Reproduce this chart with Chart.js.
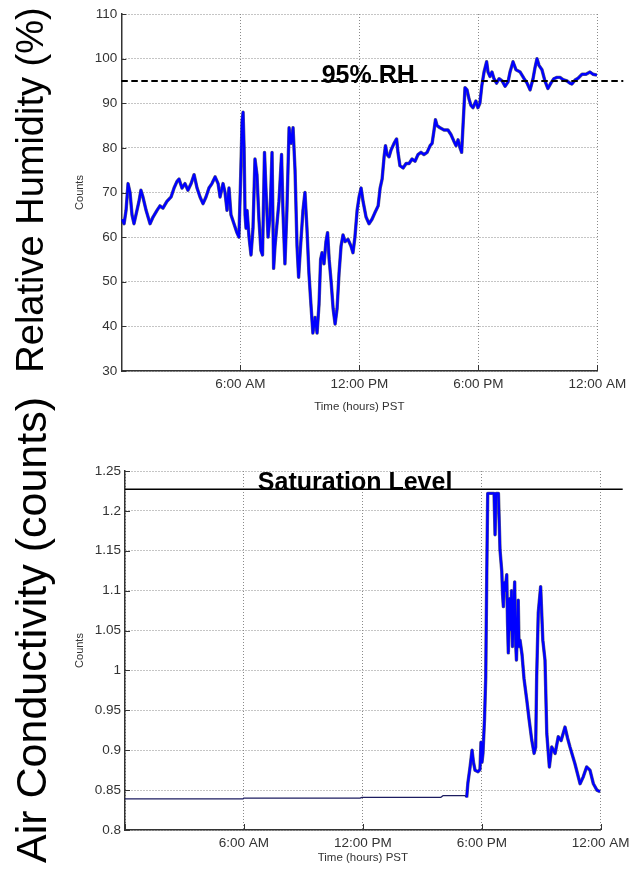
<!DOCTYPE html>
<html>
<head>
<meta charset="utf-8">
<script src="https://cdn.jsdelivr.net/npm/chart.js@4.4.1/dist/chart.umd.min.js"></script>
<style>
  html, body { margin: 0; padding: 0; background: #fff; }
  body { width: 630px; height: 878px; position: relative; overflow: hidden; font-family: "Liberation Sans", Arial, sans-serif; }
  #rhBox { position: absolute; left: 0; top: 0; width: 630px; height: 425px; }
  #condBox { position: absolute; left: 0; top: 430px; width: 630px; height: 448px; }
  .side { position: absolute; white-space: nowrap; color: #000; line-height: 1; transform: translate(-50%, -50%) rotate(-90deg); }
</style>
</head>
<body>
<div id="rhBox"><canvas id="rh"></canvas></div>
<div id="condBox"><canvas id="cond"></canvas></div>
<div class="side" style="left:30px; top:190px; font-size:38px;">Relative Humidity (%)</div>
<div class="side" style="left:31px; top:630px; font-size:43px;">Air Conductivity (counts)</div>
<script>
// Time axis (hours after midnight, PST)
const hourTicks = [0, 6, 12, 18, 24];
const hourLabels = ['', '6:00 AM', '12:00 PM', '6:00 PM', '12:00 AM'];

// Relative humidity axis
const rhTicks = [30, 40, 50, 60, 70, 80, 90, 100, 110];
const rhTickLabels = ['30', '40', '50', '60', '70', '80', '90', '100', '110'];
const rhThreshold = 95;

// Relative humidity record
const rhHours = [
  0.04, 0.14, 0.24, 0.34, 0.44, 0.54, 0.64, 0.79, 0.89, 0.99, 1.09, 1.25, 1.45, 1.60, 1.80, 1.95,
  2.10, 2.30, 2.51, 2.66, 2.81, 2.91, 3.06, 3.21, 3.36, 3.52, 3.67, 3.82, 3.97, 4.12, 4.27, 4.42,
  4.57, 4.73, 4.88, 4.98, 5.13, 5.23, 5.33, 5.43, 5.53, 5.68, 5.83, 5.93, 6.01, 6.09, 6.14, 6.19,
  6.24, 6.29, 6.34, 6.44, 6.54, 6.64, 6.74, 6.84, 6.94, 7.04, 7.12, 7.22, 7.30, 7.40, 7.50, 7.60,
  7.68, 7.75, 7.85, 7.95, 8.08, 8.15, 8.25, 8.35, 8.46, 8.56, 8.66, 8.76, 8.86, 8.94, 9.01, 9.16,
  9.26, 9.36, 9.46, 9.56, 9.66, 9.77, 9.87, 9.97, 10.05, 10.12, 10.22, 10.32, 10.40, 10.48, 10.58, 10.68,
  10.78, 10.88, 10.98, 11.08, 11.18, 11.28, 11.43, 11.58, 11.68, 11.78, 11.89, 11.99, 12.09, 12.19, 12.34, 12.49,
  12.64, 12.79, 12.95, 13.05, 13.15, 13.25, 13.32, 13.40, 13.50, 13.60, 13.75, 13.88, 13.95, 14.05, 14.21, 14.36,
  14.51, 14.66, 14.81, 14.96, 15.11, 15.26, 15.42, 15.57, 15.67, 15.77, 15.84, 15.92, 16.07, 16.27, 16.47, 16.62,
  16.77, 16.88, 16.98, 17.08, 17.16, 17.23, 17.33, 17.43, 17.53, 17.63, 17.73, 17.88, 17.98, 18.08, 18.18, 18.29,
  18.42, 18.49, 18.59, 18.69, 18.79, 18.92, 19.05, 19.20, 19.35, 19.50, 19.60, 19.75, 19.90, 20.11, 20.31, 20.46,
  20.61, 20.76, 20.86, 20.96, 21.06, 21.21, 21.36, 21.51, 21.66, 21.81, 21.97, 22.12, 22.27, 22.47, 22.62, 22.72,
  22.88, 23.03, 23.23, 23.43, 23.63, 23.78, 23.98
];
const rhValues = [
  64, 63, 66, 72, 70, 65, 63, 66, 68, 70.5, 69, 66, 63, 64.5, 66, 67,
  66.5, 68, 69, 71, 72.5, 73, 71, 72, 70.5, 72, 74, 71, 69, 67.5, 69, 71,
  72, 73.5, 72, 69, 72, 70, 66, 71, 65, 63, 61, 60, 72, 86, 88, 80,
  65, 62, 66, 60, 56, 62, 77.5, 74, 64, 57, 56, 79, 70, 60, 65, 79,
  53, 58, 63, 68, 78.5, 66, 54, 66, 84.5, 81, 84.5, 75, 58, 51, 56, 66,
  70, 62, 52, 45, 38.5, 42, 38.5, 45, 55, 56.5, 54, 59, 61, 55, 50, 44,
  40.5, 44, 52, 58, 60.5, 59, 59.5, 58, 56.5, 60, 66, 69, 71, 68, 64.5, 63,
  64, 65.5, 67, 71, 73, 78, 80.5, 78.5, 78, 79.5, 81, 82, 79, 76, 75.5, 76.5,
  76.5, 77.5, 77, 78.5, 79, 78.5, 79, 80.5, 81, 84, 86.3, 85, 84.5, 84, 84, 83,
  81.5, 80.5, 81.8, 80, 79, 85, 93.5, 93, 91, 89.5, 89, 90.5, 89, 90, 94, 97,
  99.3, 97, 96, 97, 95.5, 94.5, 95.5, 95, 93.8, 94.8, 97, 99.3, 97.5, 97, 95.5, 94.5,
  93, 95.5, 98, 100, 98.5, 97.5, 95, 93.3, 94.5, 95.5, 95.8, 95.8, 95.3, 95, 94.5, 94.3,
  95.2, 95.6, 96.5, 96.5, 97, 96.5, 96.3
];

// Air conductivity axis
const condTicks = [0.8, 0.85, 0.9, 0.95, 1, 1.05, 1.1, 1.15, 1.2, 1.25];
const condTickLabels = ['0.8', '0.85', '0.9', '0.95', '1', '1.05', '1.1', '1.15', '1.2', '1.25'];
const saturationLevel = 1.227;

// Air conductivity record
const condHours = [
  0, 5.95, 6.0, 11.86, 11.96, 15.94, 16.04, 17.15, 17.24, 17.30, 17.41, 17.51, 17.58, 17.66, 17.81, 17.91,
  17.96, 18.01, 18.06, 18.14, 18.20, 18.25, 18.30, 18.62, 18.67, 18.72, 18.84, 18.92, 19.01, 19.05, 19.09, 19.13,
  19.17, 19.26, 19.30, 19.34, 19.40, 19.46, 19.50, 19.55, 19.60, 19.66, 19.70, 19.75, 19.80, 19.84, 19.88, 19.93,
  20.03, 20.13, 20.27, 20.38, 20.52, 20.64, 20.72, 20.77, 20.85, 20.97, 21.08, 21.19, 21.28, 21.41, 21.53, 21.70,
  21.86, 22.00, 22.20, 22.33, 22.45, 22.70, 22.96, 23.11, 23.29, 23.46, 23.63, 23.81, 23.97
];
const condValues = [
  0.839, 0.839, 0.840, 0.840, 0.841, 0.841, 0.843, 0.843, 0.841, 0.859, 0.879, 0.900, 0.885, 0.875, 0.873, 0.876,
  0.910, 0.885, 0.896, 0.940, 0.992, 1.117, 1.222, 1.222, 1.170, 1.222, 1.222, 1.151, 1.124, 1.095, 1.080, 1.110,
  1.100, 1.120, 1.060, 1.022, 1.090, 1.051, 1.100, 1.030, 1.070, 1.111, 1.040, 1.013, 1.060, 1.088, 1.030, 1.038,
  1.020, 0.990, 0.963, 0.940, 0.913, 0.896, 0.904, 0.992, 1.072, 1.105, 1.038, 1.013, 0.921, 0.879, 0.904, 0.896,
  0.917, 0.912, 0.929, 0.915, 0.904, 0.883, 0.858, 0.866, 0.879, 0.875, 0.858, 0.850, 0.848
];

const FAMILY = '"Liberation Sans", Arial, sans-serif';

function pairs(xs, ys) { return xs.map((h, i) => ({ x: h, y: ys[i] })); }

// Short inward tick marks, the reference line and its caption
const overlays = {
  id: 'overlays',
  afterDatasetsDraw(chart, args, opts) {
    const { ctx, chartArea: a, scales: { x, y } } = chart;
    ctx.save();
    ctx.strokeStyle = '#333';
    ctx.lineWidth = 1;
    y.ticks.forEach(t => {
      const py = Math.round(y.getPixelForValue(t.value)) + 0.5;
      ctx.beginPath(); ctx.moveTo(a.left, py); ctx.lineTo(a.left + 5, py); ctx.stroke();
    });
    x.ticks.forEach(t => {
      const px = Math.round(x.getPixelForValue(t.value)) + 0.5;
      ctx.beginPath(); ctx.moveTo(px, a.bottom); ctx.lineTo(px, a.bottom - 6); ctx.stroke();
    });
    const ly = y.getPixelForValue(opts.level);
    ctx.strokeStyle = '#000';
    ctx.lineWidth = opts.width;
    ctx.setLineDash(opts.dash);
    ctx.beginPath(); ctx.moveTo(a.left, ly); ctx.lineTo(a.right + opts.extend, ly); ctx.stroke();
    ctx.setLineDash([]);
    ctx.fillStyle = '#000';
    ctx.font = 'bold 25px ' + FAMILY;
    ctx.textAlign = 'center';
    ctx.textBaseline = 'alphabetic';
    ctx.fillText(opts.text, x.getPixelForValue(opts.textAt), ly + opts.textDy);
    ctx.restore();
  }
};

function makeChart(id, c) {
  const pts = pairs(c.hours, c.values);
  return new Chart(document.getElementById(id), {
    type: 'line',
    data: {
      datasets: [
        { data: pts, borderColor: '#0000ff', borderWidth: 2.4, order: 0, segment: c.segBlue || {} },
        { data: pts, borderColor: 'rgba(50,50,80,0.75)', borderWidth: 3.4, order: 1, segment: c.segGrey || {} }
      ]
    },
    options: {
      responsive: true,
      maintainAspectRatio: false,
      animation: false,
      devicePixelRatio: 1,
      layout: { padding: c.padding },
      elements: { point: { radius: 0 }, line: { tension: 0, borderJoinStyle: 'round' } },
      plugins: { legend: { display: false }, tooltip: { enabled: false }, overlays: c.overlay },
      scales: {
        x: {
          type: 'linear', min: 0, max: 24,
          afterBuildTicks: s => { s.ticks = hourTicks.map(v => ({ value: v })); },
          afterFit: s => { s.height = c.xHeight; s.paddingLeft = 0; s.paddingRight = 0; },
          ticks: { callback: (v, i) => hourLabels[i], color: '#333', font: { size: 13.5, family: FAMILY }, padding: 5, maxRotation: 0, autoSkip: false },
          grid: { color: '#8a8a8a', lineWidth: 1, drawTicks: false },
          border: { display: true, color: '#333', width: 1.5, dash: [1, 2] },
          title: { display: true, text: 'Time (hours) PST', color: '#333', font: { size: 11.5, family: FAMILY }, padding: { top: 0, bottom: c.xTitlePad } }
        },
        y: {
          type: 'linear', min: c.yTicks[0], max: c.yTicks[c.yTicks.length - 1],
          afterBuildTicks: s => { s.ticks = c.yTicks.map(v => ({ value: v })); },
          afterFit: s => { s.width = c.yWidth; },
          ticks: { callback: (v, i) => c.yLabels[i], color: '#333', font: { size: 13.5, family: FAMILY }, padding: 4, autoSkip: false },
          grid: { color: '#8a8a8a', lineWidth: 1, drawTicks: false },
          border: { display: true, color: '#333', width: 1.5, dash: [1, 2] },
          title: { display: true, text: 'Counts', color: '#333', font: { size: 11, family: FAMILY }, padding: { top: c.yTitlePad, bottom: 0 } }
        }
      }
    },
    plugins: [overlays]
  });
}

makeChart('rh', {
  hours: rhHours, values: rhValues,
  yTicks: rhTicks, yLabels: rhTickLabels,
  padding: { left: 0, top: 14, right: 32.7, bottom: 0 },
  yWidth: 121.3, xHeight: 54, xTitlePad: 11, yTitlePad: 73,
  overlay: { level: rhThreshold, width: 2, dash: [6.5, 3.5], extend: 26, text: '95% RH', textAt: 12.45, textDy: 2 }
});

// Flat stretches of the baseline are drawn as a thin dark trace
const flat = ctx => ctx.p0.parsed.y < 0.8445 && ctx.p1.parsed.y < 0.8445;
makeChart('cond', {
  hours: condHours, values: condValues,
  yTicks: condTicks, yLabels: condTickLabels,
  padding: { left: 0, top: 41, right: 29.3, bottom: 0 },
  yWidth: 125, xHeight: 48, xTitlePad: 13, yTitlePad: 73,
  overlay: { level: saturationLevel, width: 1.5, dash: [], extend: 22, text: 'Saturation Level', textAt: 11.61, textDy: 1 },
  segBlue: { borderColor: c => flat(c) ? '#1c1c60' : undefined, borderWidth: c => flat(c) ? 1.3 : undefined },
  segGrey: { borderColor: c => flat(c) ? 'rgba(0,0,0,0)' : undefined }
});
</script>
</body>
</html>
